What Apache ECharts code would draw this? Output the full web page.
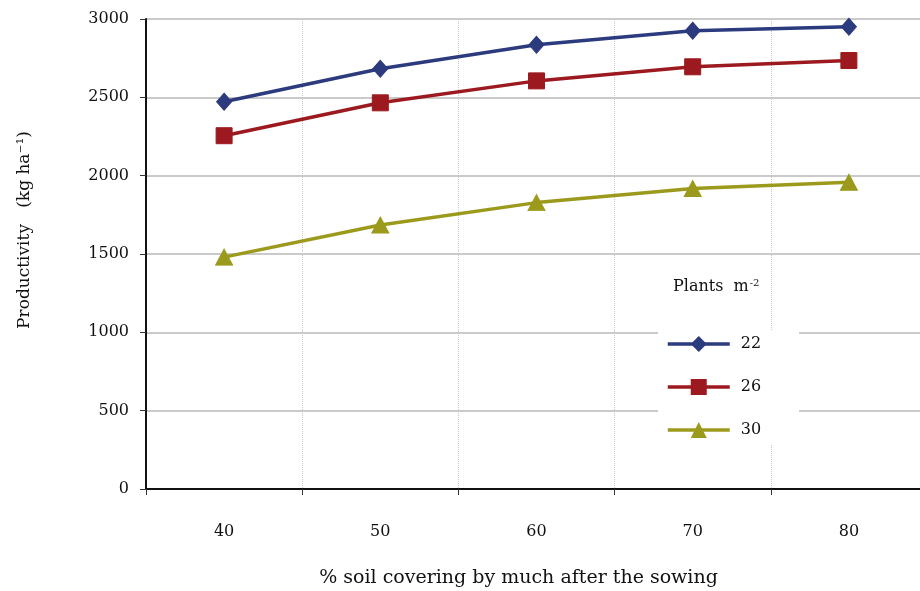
<!DOCTYPE html>
<html>
<head>
<meta charset="utf-8">
<script src="https://cdn.jsdelivr.net/npm/echarts@6/dist/echarts.min.js"></script>
<style>html,body{margin:0;padding:0;background:#fff;}#c{width:920px;height:591px;}</style>
</head>
<body>
<div id="c"></div>
<script>
const categories = ['40', '50', '60', '70', '80'];
const seriesNames = ['22', '26', '30'];
const plants22 = [2472, 2682, 2835, 2925, 2950];
const plants26 = [2255, 2465, 2605, 2695, 2735];
const plants30 = [1480, 1685, 1828, 1918, 1958];
const yTicks = [0, 500, 1000, 1500, 2000, 2500, 3000];

const serif = '"DejaVu Serif", "Liberation Serif", serif';
const colors = ['#2C3A7E', '#9C1A1F', '#9C9A1C'];
const symbols = ['diamond', 'rect', 'triangle'];
const sizes = [[15, 17], [16, 16], [17, 16]];
const dataSets = [plants22, plants26, plants30];

const chart = echarts.init(document.getElementById('c'), null, {renderer: 'canvas'});
chart.setOption({
  backgroundColor: '#fff',
  animation: false,
  grid: {left: 146, top: 19, bottom: 102, right: -7, containLabel: false, outerBoundsMode: 'none'},
  title: {
    text: 'Plants  m{s|-2}',
    left: 668, top: 273,
    textStyle: {fontFamily: serif, fontSize: 16, fontWeight: 'normal', color: '#111',
      rich: {s: {fontFamily: serif, fontSize: 10, verticalAlign: 'top', padding: [0, 0, 8, 1], color: '#111'}}}
  },
  legend: {
    orient: 'vertical',
    left: 658, top: 330,
    padding: [6, 38, 6, 8],
    backgroundColor: '#fff',
    itemWidth: 62, itemHeight: 20, itemGap: 27,
    lineStyle: {width: 3.5},
    textStyle: {fontFamily: serif, fontSize: 16, color: '#111', padding: [0, 0, 0, 6]},
    data: seriesNames
  },
  xAxis: {
    type: 'category',
    data: categories,
    boundaryGap: true,
    name: '% soil covering by much after the sowing',
    nameLocation: 'middle',
    nameGap: 80,
    nameTextStyle: {fontFamily: serif, fontSize: 19, color: '#111', padding: [0, 36, 0, 0]},
    axisLine: {lineStyle: {color: '#111', width: 2}},
    axisTick: {show: true, inside: false, length: 6, lineStyle: {color: '#333'}},
    axisLabel: {fontFamily: serif, fontSize: 16, color: '#111', margin: 35},
    splitLine: {show: true, lineStyle: {color: '#c8c8c8', type: 'dotted', width: 1}}
  },
  yAxis: {
    type: 'value',
    min: 0, max: 3000, interval: 500,
    axisLine: {show: true, lineStyle: {color: '#111', width: 2}},
    axisTick: {show: true, length: 6, lineStyle: {color: '#333'}},
    axisLabel: {fontFamily: serif, fontSize: 16, color: '#111', margin: 17,
      formatter: v => yTicks.includes(v) ? String(v) : ''},
    splitLine: {show: true, lineStyle: {color: '#b8b8b8', width: 1.5}}
  },
  graphic: [{
    type: 'text',
    x: 25, y: 230,
    rotation: Math.PI / 2,
    style: {
      text: 'Productivity   (kg ha⁻¹)',
      font: '17px "DejaVu Serif", serif',
      fill: '#111',
      align: 'center',
      verticalAlign: 'middle'
    }
  }],
  series: seriesNames.map((n, i) => ({
    name: n,
    type: 'line',
    data: dataSets[i],
    symbol: symbols[i],
    symbolSize: sizes[i],
    showAllSymbol: true,
    lineStyle: {color: colors[i], width: 3.5},
    itemStyle: {color: colors[i], borderColor: colors[i]},
    z: 3 - i
  }))
});
</script>
</body>
</html>
